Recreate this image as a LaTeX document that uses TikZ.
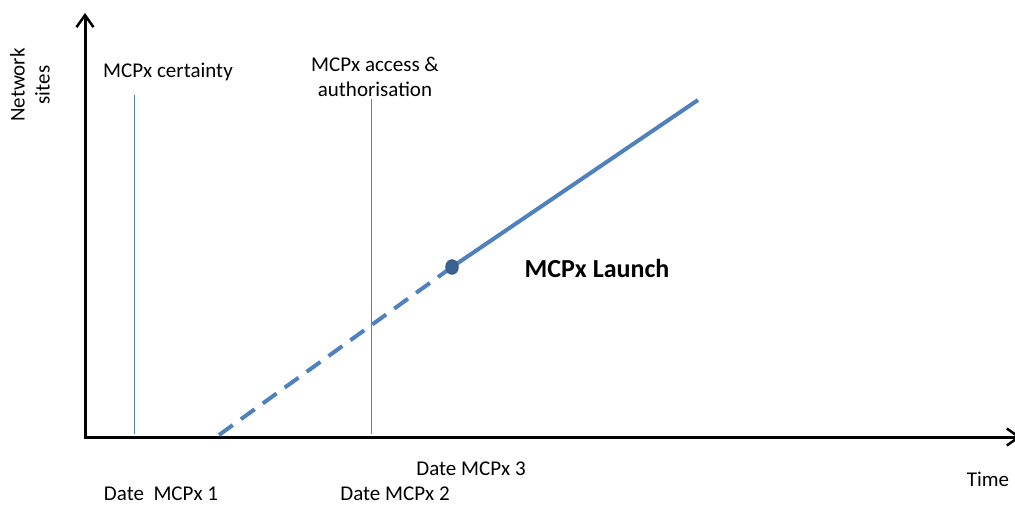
\documentclass[tikz,border=0pt]{standalone}
\usepackage{fontspec}
\setmainfont{Carlito}
\usetikzlibrary{arrows.meta, calc}
\definecolor{lineblue}{RGB}{79,129,189}
\definecolor{dotblue}{RGB}{56,93,138}

\begin{document}
\begin{tikzpicture}[x=1pt, y=-1pt, font=\fontsize{21}{25}\selectfont,
	axis/.style={line width=3pt, -{Straight Barb[length=12pt, width=17pt, line width=2.5pt]}},
	dateline/.style={lineblue, line width=1pt},
	growth/.style={lineblue, line width=4pt}]
	\useasboundingbox (0,0) rectangle (1015,504);
	\clip (0,0) rectangle (1015,504);

	\coordinate (O) at (85,437);
	\coordinate (Y) at (85,13);
	\coordinate (X) at (1021,437);
	\draw [axis] (O) -- (Y);
	\draw [axis] ($(O)+(-1.5,0)$) -- (X);

	% milestone markers
	\coordinate (A1) at (134,95);
	\coordinate (A2) at (134,434);
	\coordinate (B1) at (371,99);
	\coordinate (B2) at (371,434);
	\draw [dateline] (A1) -- (A2);
	\draw [dateline] (B1) -- (B2);

	\coordinate (S) at (219,435);
	\coordinate (L) at (452,267);
	\coordinate (E) at (698,100);
	\draw [growth, dash pattern=on 17pt off 10pt] (S) -- (L);
	\draw [growth] (L) -- (E);
	\fill [dotblue!85!lineblue] (L) ellipse (6 and 7);
	\draw [dotblue, line width=1.5pt] (L) ellipse (6 and 7);

	\node (launch) at (597,268) {\fontsize{26}{30}\selectfont\bfseries MCPx Launch};
	\node (cert) at (168,72) {MCPx certainty};
	\node (access) [align=center] at (375,77) {MCPx access \&\\authorisation};
	\node (sites) [rotate=90, align=center] at (30,85) {Network\\sites};
	\node (d3) at (471,469) {Date MCPx 3};
	\node (d1) at (161,494) {Date\ \ MCPx 1};
	\node (d2) at (395,494) {Date MCPx 2};
	\node (time) at (988,479) {Time};
\end{tikzpicture}
\end{document}
